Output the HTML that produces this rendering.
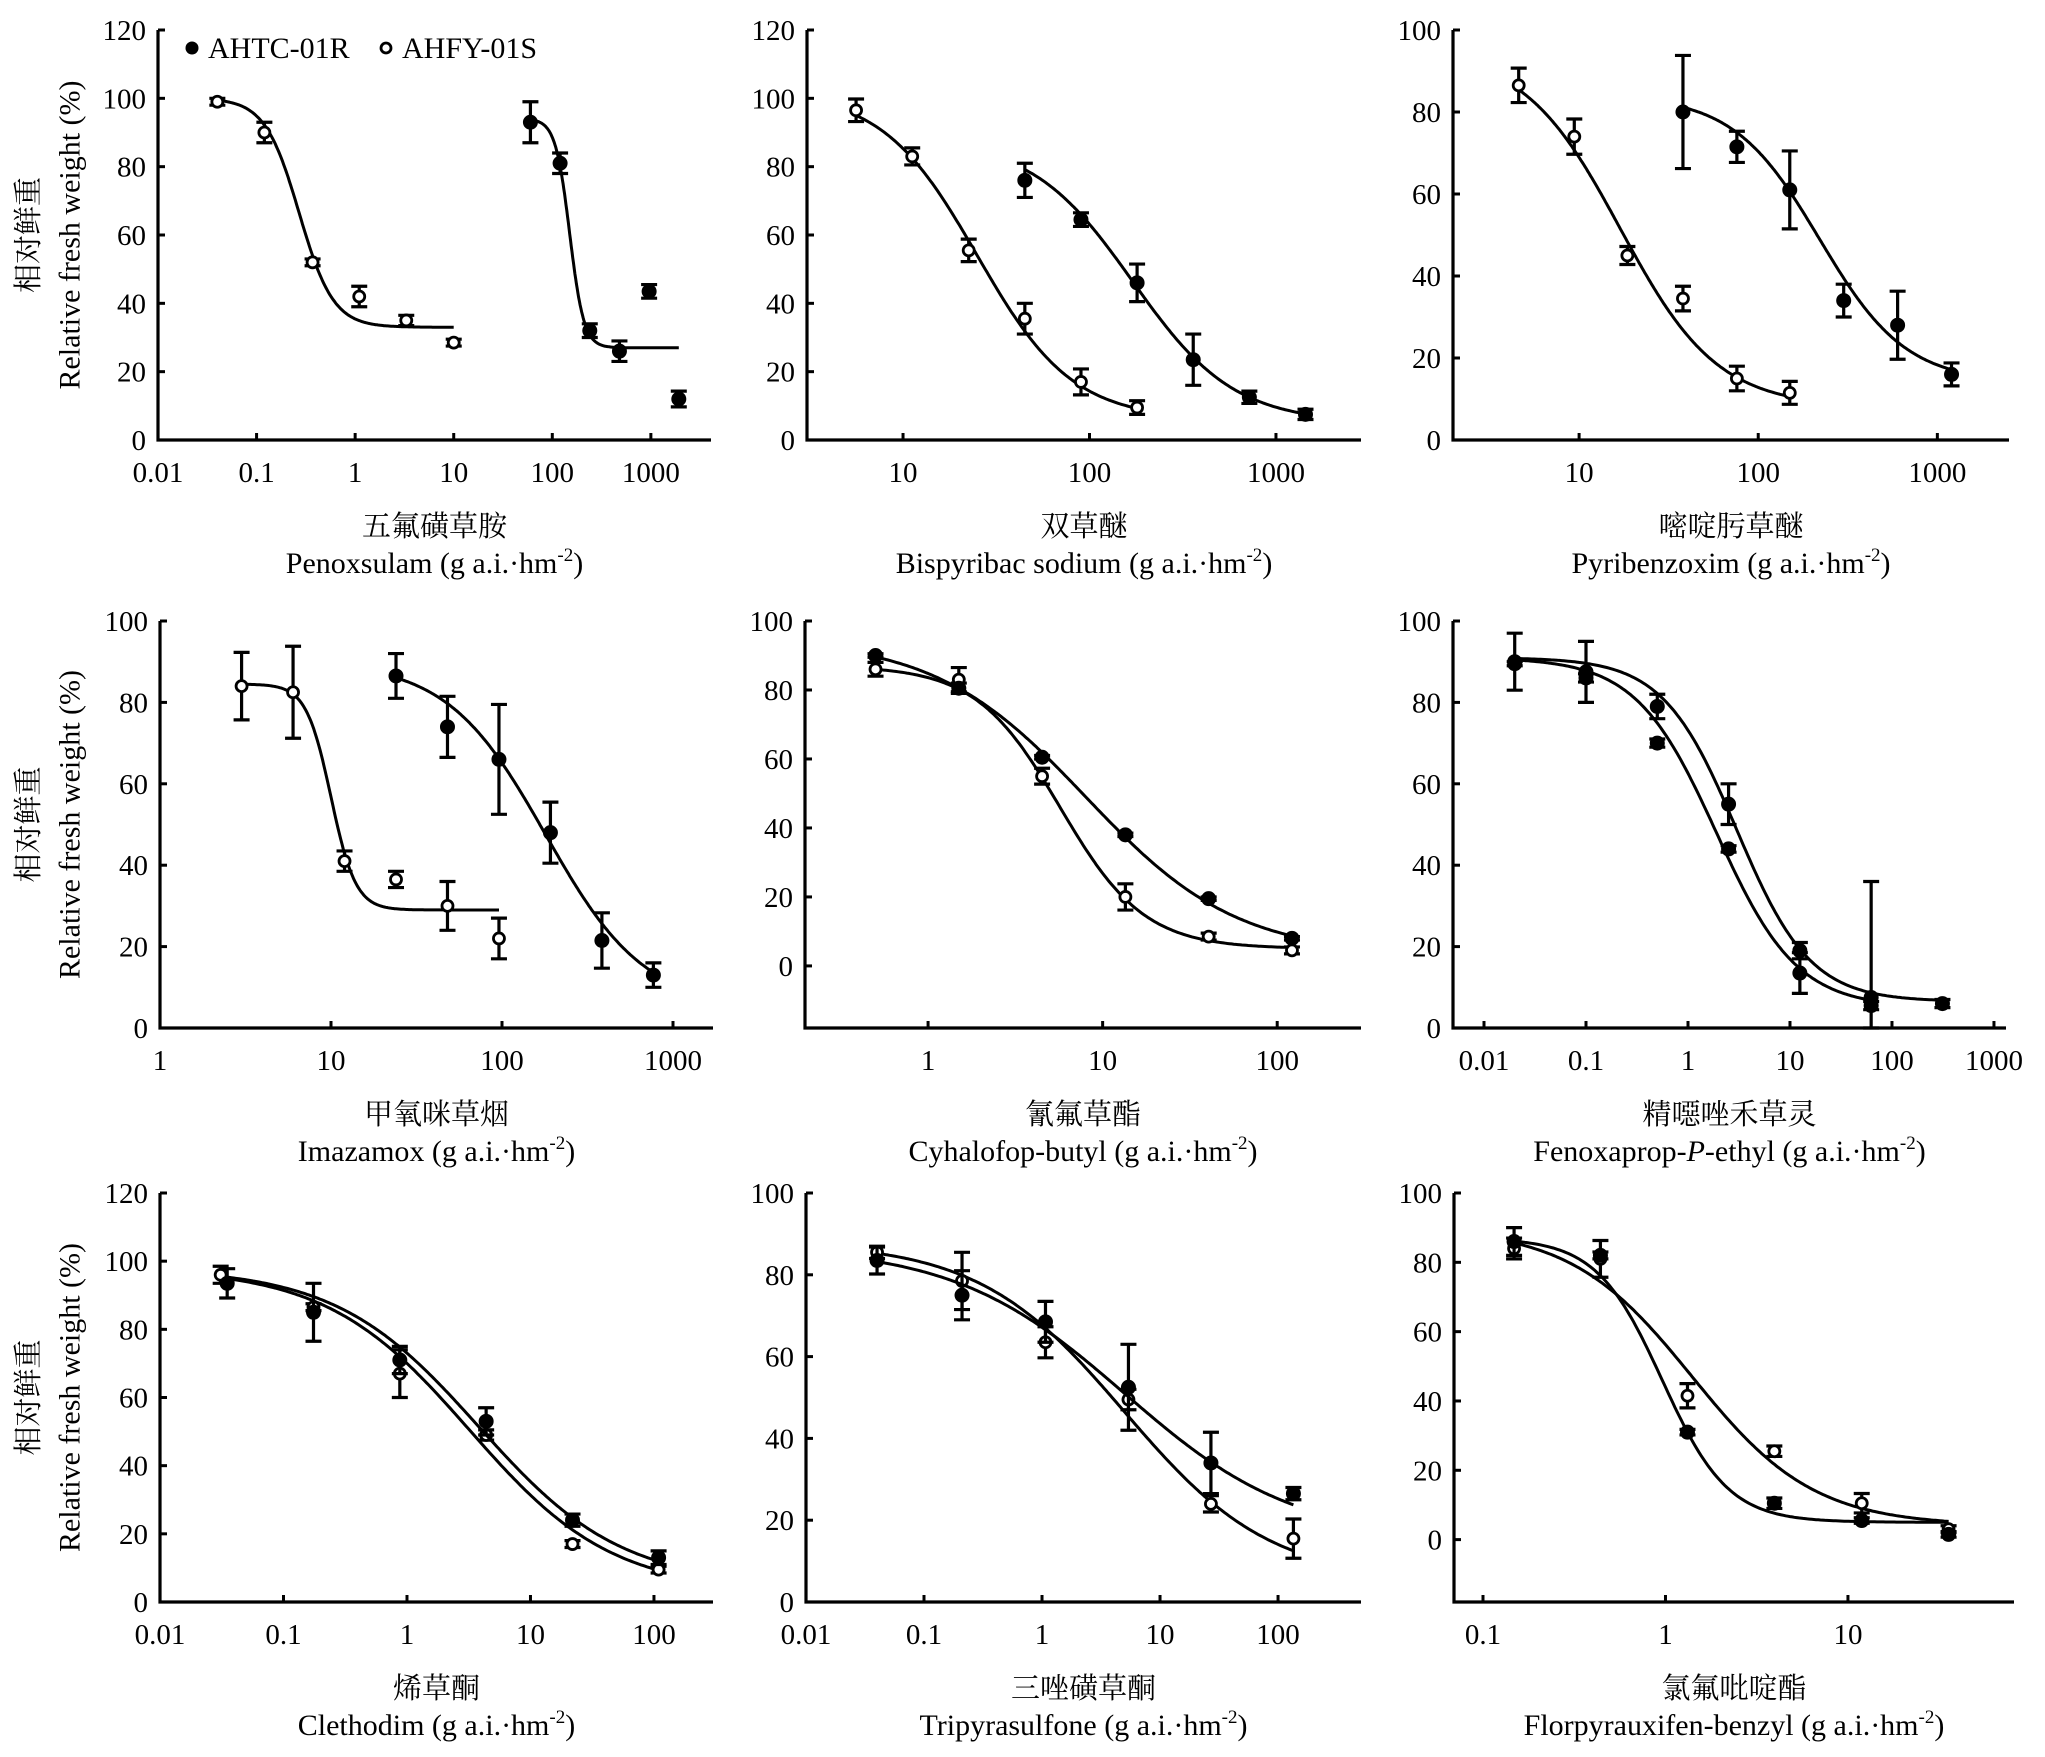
<!DOCTYPE html>
<html><head><meta charset="utf-8"><style>
html,body{margin:0;padding:0;background:#fff;}
svg{display:block;font-family:"Liberation Serif","Noto Serif CJK SC",serif;}
</style></head><body>
<svg id="fig" xmlns="http://www.w3.org/2000/svg" width="2045" height="1757" viewBox="0 0 2045 1757">
<rect width="2045" height="1757" fill="#fff"/>
</svg>
<script>
// ---- Data (dose, mean relative fresh weight, error half-width, fit [top,bottom,ED50,slope]) ----
const penoxDoseS=[0.04,0.12,0.37,1.1,3.3,10];
const penoxMeanS=[99,90,52,42,35,28.5];
const penoxErrS=[1,3,1,3,1.5,1];
const penoxFitS=[100,33,0.27,2.5];
const penoxDoseR=[60,120,240,480,960,1920];
const penoxMeanR=[93,81,32,26,43.5,12];
const penoxErrR=[6,3,2,3,2,2.3];
const penoxFitR=[94,27,150,6];

const bispyDoseS=[5.6,11.2,22.5,45,90,180];
const bispyMeanS=[96.5,83,55.5,35.5,17,9.5];
const bispyErrS=[3.3,2.5,3.3,4.5,3.8,2];
const bispyFitS=[102,6,25,1.7];
const bispyDoseR=[45,90,180,360,720,1440];
const bispyMeanR=[76,64.5,46,23.5,12.5,7.5];
const bispyErrR=[5,2,5.5,7.5,1.8,1.5];
const bispyFitR=[88,5,170,1.6];

const pyribDoseS=[4.6,9.4,18.6,38,76,150];
const pyribMeanS=[86.5,74,45,34.5,15,11.5];
const pyribErrS=[4.2,4.3,2.2,3,3,2.8];
const pyribFitS=[95,8,17,1.6];
const pyribDoseR=[38,76,150,300,600,1200];
const pyribMeanR=[80,71.5,61,34,28,16];
const pyribErrR=[13.8,3.8,9.5,4,8.3,2.8];
const pyribFitR=[84,14,220,1.8];

const imazaDoseS=[3,6,12,24,48,96];
const imazaMeanS=[84,82.5,41,36.5,30,22];
const imazaErrS=[8.3,11.3,2.5,2,6,5];
const imazaFitS=[84.5,29,10,6];
const imazaDoseR=[24,48,96,192,384,768];
const imazaMeanR=[86.5,74,66,48,21.5,13];
const imazaErrR=[5.5,7.5,13.5,7.5,6.8,3];
const imazaFitR=[90,5,180,1.5];

const cyhalDoseS=[0.5,1.5,4.5,13.5,40.5,121.5];
const cyhalMeanS=[86,83,55,20,8.5,4.5];
const cyhalErrS=[2,3.5,2.3,3.8,1,1];
const cyhalFitS=[87,5,5.7,1.8];
const cyhalDoseR=[0.5,1.5,4.5,13.5,40.5,121.5];
const cyhalMeanR=[90,80.5,60.5,38,19.5,8];
const cyhalErrR=[0.5,1.5,0.5,0.5,0.5,0.5];
const cyhalFitR=[95,3,8,1];

const fenoxDoseA=[0.02,0.1,0.5,2.5,12.5,62.5,312.5];
const fenoxMeanA=[90,87.5,79,55,19,7.5,6];
const fenoxErrA=[7,7.5,3,5,2,28.5,1];
const fenoxFitA=[91,6.5,3,1.2];
const fenoxDoseB=[0.02,0.1,0.5,2.5,12.5,62.5];
const fenoxMeanB=[89.5,86,70,44,13.5,5.5];
const fenoxErrB=[0.5,1,1,0.8,5,1];
const fenoxFitB=[91,5,1.9,1.1];

const clethDoseS=[0.031,0.175,0.875,4.375,21.9,109];
const clethMeanS=[96,86.5,67,49,17,9.5];
const clethErrS=[2.5,1,7,1.5,1,1];
const clethFitS=[98,3,3.2,0.75];
const clethDoseR=[0.035,0.175,0.875,4.375,21.9,109];
const clethMeanR=[93.5,85,71,53,24,13];
const clethErrR=[4.3,8.5,4,4,1.8,2];
const clethFitR=[98,5,3.8,0.75];

const tripyDoseS=[0.04,0.21,1.07,5.4,27,135];
const tripyMeanS=[85.5,78.5,63.5,49.5,24,15.5];
const tripyErrS=[1.5,7,3.8,2.5,2,4.8];
const tripyFitS=[88,5,5,0.7];
const tripyDoseR=[0.04,0.21,1.07,5.4,27,135];
const tripyMeanR=[83.5,75,68.5,52.5,34,26.5];
const tripyErrR=[3.3,6,5,10.5,7.5,1.5];
const tripyFitR=[87,15,5,0.6];

const florpDoseS=[0.148,0.44,1.32,3.95,11.9,35.6];
const florpMeanS=[84,81,41.5,25.5,10.5,3];
const florpErrS=[3,5.3,3.5,1.5,2.8,1];
const florpFitS=[90,4,1.4,1.3];
const florpDoseR=[0.148,0.44,1.32,3.95,11.9,35.6];
const florpMeanR=[86,82,31,10.5,5.5,1.5];
const florpErrR=[4,1,0.8,1.5,0.8,0.8];
const florpFitR=[87,5,0.96,2.41];

// tick values
const ticksPenox=[0.01,0.1,1,10,100,1000];
const ticksBispy=[10,100,1000];
const ticksPyrib=[10,100,1000];
const ticksImaza=[1,10,100,1000];
const ticksCyhal=[1,10,100];
const ticksFenox=[0.01,0.1,1,10,100,1000];
const ticksCleth=[0.01,0.1,1,10,100];
const ticksTripy=[0.01,0.1,1,10,100];
const ticksFlorp=[0.1,1,10];
const yTicks120=[0,20,40,60,80,100,120];
const yTicks100=[0,20,40,60,80,100];

const NS="http://www.w3.org/2000/svg";
const svg=document.getElementById('fig');
function mk(tag,attrs,parent){const e=document.createElementNS(NS,tag);for(const k in attrs)e.setAttribute(k,attrs[k]);(parent||svg).appendChild(e);return e;}
function fmt(v){return v>=1?String(v):String(v);}

const panels=[
 {id:'penoxsulam',zh:'五氟磺草胺',en:'Penoxsulam',x0:158,x1:711,lmin:-2,lmax:3.61,yt:30,yb:440,ymin:0,ymax:120,yT:yTicks120,xT:ticksPenox,ylab:true,
  series:[{k:'S',d:penoxDoseS,m:penoxMeanS,e:penoxErrS,f:penoxFitS,open:true},{k:'R',d:penoxDoseR,m:penoxMeanR,e:penoxErrR,f:penoxFitR,open:false}]},
 {id:'bispyribac',zh:'双草醚',en:'Bispyribac sodium',x0:807,x1:1361,lmin:0.485,lmax:3.456,yt:30,yb:440,ymin:0,ymax:120,yT:yTicks120,xT:ticksBispy,
  series:[{k:'S',d:bispyDoseS,m:bispyMeanS,e:bispyErrS,f:bispyFitS,open:true},{k:'R',d:bispyDoseR,m:bispyMeanR,e:bispyErrR,f:bispyFitR,open:false}]},
 {id:'pyribenzoxim',zh:'嘧啶肟草醚',en:'Pyribenzoxim',x0:1453,x1:2009,lmin:0.296,lmax:3.40,yt:30,yb:440,ymin:0,ymax:100,yT:yTicks100,xT:ticksPyrib,
  series:[{k:'S',d:pyribDoseS,m:pyribMeanS,e:pyribErrS,f:pyribFitS,open:true},{k:'R',d:pyribDoseR,m:pyribMeanR,e:pyribErrR,f:pyribFitR,open:false}]},
 {id:'imazamox',zh:'甲氧咪草烟',en:'Imazamox',x0:160,x1:713,lmin:0,lmax:3.234,yt:621,yb:1028,ymin:0,ymax:100,yT:yTicks100,xT:ticksImaza,ylab:true,
  series:[{k:'S',d:imazaDoseS,m:imazaMeanS,e:imazaErrS,f:imazaFitS,open:true},{k:'R',d:imazaDoseR,m:imazaMeanR,e:imazaErrR,f:imazaFitR,open:false}]},
 {id:'cyhalofop',zh:'氰氟草酯',en:'Cyhalofop-butyl',x0:805,x1:1361,lmin:-0.705,lmax:2.48,yt:621,yb:1028,ymin:-18,ymax:100,yT:yTicks100,xT:ticksCyhal,
  series:[{k:'S',d:cyhalDoseS,m:cyhalMeanS,e:cyhalErrS,f:cyhalFitS,open:true},{k:'R',d:cyhalDoseR,m:cyhalMeanR,e:cyhalErrR,f:cyhalFitR,open:false}]},
 {id:'fenoxaprop',zh:'精噁唑禾草灵',en:'Fenoxaprop-',ital:'P',en2:'-ethyl',x0:1453,x1:2006,lmin:-2.304,lmax:3.118,yt:621,yb:1028,ymin:0,ymax:100,yT:yTicks100,xT:ticksFenox,
  series:[{k:'A',d:fenoxDoseA,m:fenoxMeanA,e:fenoxErrA,f:fenoxFitA,open:false},{k:'B',d:fenoxDoseB,m:fenoxMeanB,e:fenoxErrB,f:fenoxFitB,open:false}]},
 {id:'clethodim',zh:'烯草酮',en:'Clethodim',x0:160,x1:713,lmin:-2,lmax:2.478,yt:1193,yb:1602,ymin:0,ymax:120,yT:yTicks120,xT:ticksCleth,ylab:true,
  series:[{k:'S',d:clethDoseS,m:clethMeanS,e:clethErrS,f:clethFitS,open:true},{k:'R',d:clethDoseR,m:clethMeanR,e:clethErrR,f:clethFitR,open:false}]},
 {id:'tripyrasulfone',zh:'三唑磺草酮',en:'Tripyrasulfone',x0:806,x1:1361,lmin:-2,lmax:2.703,yt:1193,yb:1602,ymin:0,ymax:100,yT:yTicks100,xT:ticksTripy,
  series:[{k:'S',d:tripyDoseS,m:tripyMeanS,e:tripyErrS,f:tripyFitS,open:true},{k:'R',d:tripyDoseR,m:tripyMeanR,e:tripyErrR,f:tripyFitR,open:false}]},
 {id:'florpyrauxifen',zh:'氯氟吡啶酯',en:'Florpyrauxifen-benzyl',x0:1454,x1:2014,lmin:-1.159,lmax:1.91,yt:1193,yb:1602,ymin:-18,ymax:100,yT:yTicks100,xT:ticksFlorp,
  series:[{k:'S',d:florpDoseS,m:florpMeanS,e:florpErrS,f:florpFitS,open:true},{k:'R',d:florpDoseR,m:florpMeanR,e:florpErrR,f:florpFitR,open:false}]}
];

function fit(f,x){return f[1]+(f[0]-f[1])/(1+Math.pow(x/f[2],f[3]));}

panels.forEach(p=>{
  const g=mk('g',{});
  
  
  const X=v=>p.x0+(Math.log10(v)-p.lmin)/(p.lmax-p.lmin)*(p.x1-p.x0);
  const Y=v=>p.yb-(v-p.ymin)/(p.ymax-p.ymin)*(p.yb-p.yt);
  const top=Y(p.ymax);
  const ax=mk('path',{d:`M${p.x0},${top} L${p.x0},${p.yb} L${p.x1},${p.yb}`,fill:'none',stroke:'#000','stroke-width':3.2},g);
  
  
  p.yT.forEach(v=>{
    const yy=Y(v);
    const t=mk('line',{x1:p.x0,y1:yy,x2:p.x0+7,y2:yy,stroke:'#000','stroke-width':3},g);
    
    
    const lb=mk('text',{x:p.x0-12,y:yy+10,'text-anchor':'end','font-size':29},g);
    lb.textContent=v;
    
    
  });
  p.xT.forEach(v=>{
    const xx=X(v);
    const t=mk('line',{x1:xx,y1:p.yb,x2:xx,y2:p.yb-7,stroke:'#000','stroke-width':3},g);
    
    
    const lb=mk('text',{x:xx,y:p.yb+42,'text-anchor':'middle','font-size':29},g);
    lb.textContent=fmt(v);
    
    
  });
  const cx=(p.x0+p.x1)/2;
  const zh=mk('text',{x:cx,y:p.yb+96,'text-anchor':'middle','font-size':29},g);
  zh.textContent=p.zh;
  
  
  const en=mk('text',{x:cx,y:p.yb+133,'text-anchor':'middle','font-size':30},g);
  
  
  let html=p.en;
  if(p.ital) html+=`<tspan font-style="italic">${p.ital}</tspan>${p.en2}`;
  html+=' (g a.i.·hm<tspan font-size="19" dy="-12">-2</tspan><tspan dy="12">)</tspan>';
  en.innerHTML=html;
  if(p.ylab){
    const cy=(top+p.yb)/2;
    const a=mk('text',{x:0,y:0,'text-anchor':'middle','dominant-baseline':'central','font-size':29,transform:`translate(29,${cy}) rotate(-90)`},g);
    a.textContent='相对鲜重';
    
    
    const b=mk('text',{x:0,y:0,'text-anchor':'middle','dominant-baseline':'central','font-size':30,transform:`translate(70,${cy}) rotate(-90)`},g);
    b.textContent='Relative fresh weight (%)';
    
    
  }
  p.series.forEach(s=>{
    // fitted curve
    const lo=Math.log10(Math.min(...s.d)), hi=Math.log10(Math.max(...s.d));
    let d='';
    for(let i=0;i<=200;i++){const lx=lo+(hi-lo)*i/200;const x=Math.pow(10,lx);d+=(i?'L':'M')+X(x).toFixed(1)+','+Y(fit(s.f,x)).toFixed(1);}
    const c=mk('path',{d:d,fill:'none',stroke:'#000','stroke-width':3},g);
    
    
    s.d.forEach((dv,i)=>{
      const xx=X(dv);
      const yl=Y(Math.max(p.ymin,s.m[i]-s.e[i])), yh=Y(s.m[i]+s.e[i]);
      const eb=mk('path',{d:`M${xx},${yl} L${xx},${yh} M${xx-8},${yl} L${xx+8},${yl} M${xx-8},${yh} L${xx+8},${yh}`,fill:'none',stroke:'#000','stroke-width':3.2},g);
      
      
      const pt=mk('circle',{cx:xx,cy:Y(s.m[i]),r:s.open?5.5:7,fill:s.open?'#fff':'#000',stroke:'#000','stroke-width':s.open?2.8:1},g);
      
      
    });
  });
});

// legend
const lg=mk('g',{});


const l1=mk('circle',{cx:192,cy:48,r:6.5,fill:'#000'},lg);


const t1=mk('text',{x:208,y:58,'font-size':30},lg);
t1.textContent='AHTC-01R';


const l2=mk('circle',{cx:386,cy:48,r:5,fill:'#fff',stroke:'#000','stroke-width':2.8},lg);


const t2=mk('text',{x:402,y:58,'font-size':30},lg);
t2.textContent='AHFY-01S';


</script>
</body></html>
